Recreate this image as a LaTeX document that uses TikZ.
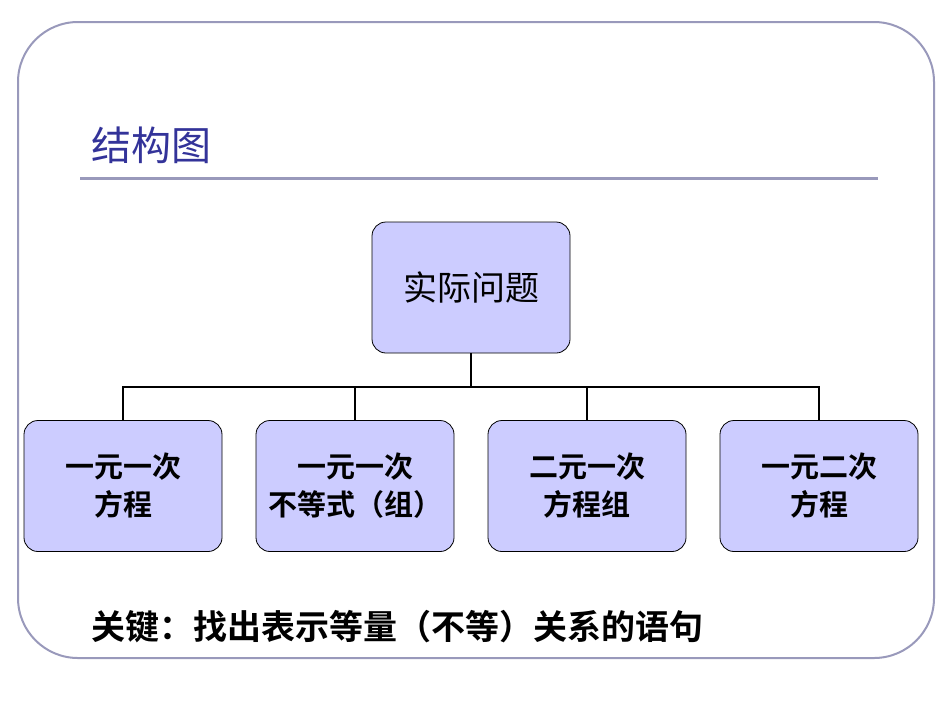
\documentclass[tikz,border=0pt]{standalone}
\usepackage{fontspec}
\newfontfamily\cjk{Noto Sans CJK SC}
\newfontfamily\cjkb{Noto Sans CJK SC Bold}
\begin{document}
\begin{tikzpicture}[x=1pt,y=-1pt,
  box/.style={draw=black,fill=boxfill,rounded corners=14pt,minimum width=198pt,minimum height=131pt,align=center,line width=0.8pt},
  conn/.style={line width=2.5pt}]
\definecolor{frame}{HTML}{9999BB}
\definecolor{boxfill}{HTML}{CCCCFF}
\definecolor{titlec}{HTML}{333399}
\useasboundingbox (0,0) rectangle (950,713);
\draw[frame,line width=2pt,rounded corners=60pt] (18,22) rectangle (934,658);
\node[anchor=west,text=titlec,font=\cjk\fontsize{40}{44}\selectfont] (title) at (88,145) {结构图};
\draw[frame,line width=3pt] (80,178) -- (878,178);
\node[box,font=\cjk\fontsize{34}{40}\selectfont] (top) at (471,287.5) {实际问题};
\node[box,font=\cjkb\fontsize{29}{38}\selectfont] (b1) at (123,486) {一元一次\\方程};
\node[box,font=\cjkb\fontsize{29}{38}\selectfont] (b2) at (355,486) {一元一次\\不等式（组）};
\node[box,font=\cjkb\fontsize{29}{38}\selectfont] (b3) at (587,486) {二元一次\\方程组};
\node[box,font=\cjkb\fontsize{29}{38}\selectfont] (b4) at (819,486) {一元二次\\方程};
\coordinate (j) at (471,387);
\draw[conn] (top.south) -- (j);
\draw[conn] (b1.north) -- (123,387) -- (819,387) -- (b4.north);
\draw[conn] (b2.north) -- (355,387);
\draw[conn] (b3.north) -- (587,387);
\node[anchor=west,font=\cjkb\fontsize{34}{40}\selectfont] (key) at (88,627) {关键：找出表示等量（不等）关系的语句};
\end{tikzpicture}
\end{document}
